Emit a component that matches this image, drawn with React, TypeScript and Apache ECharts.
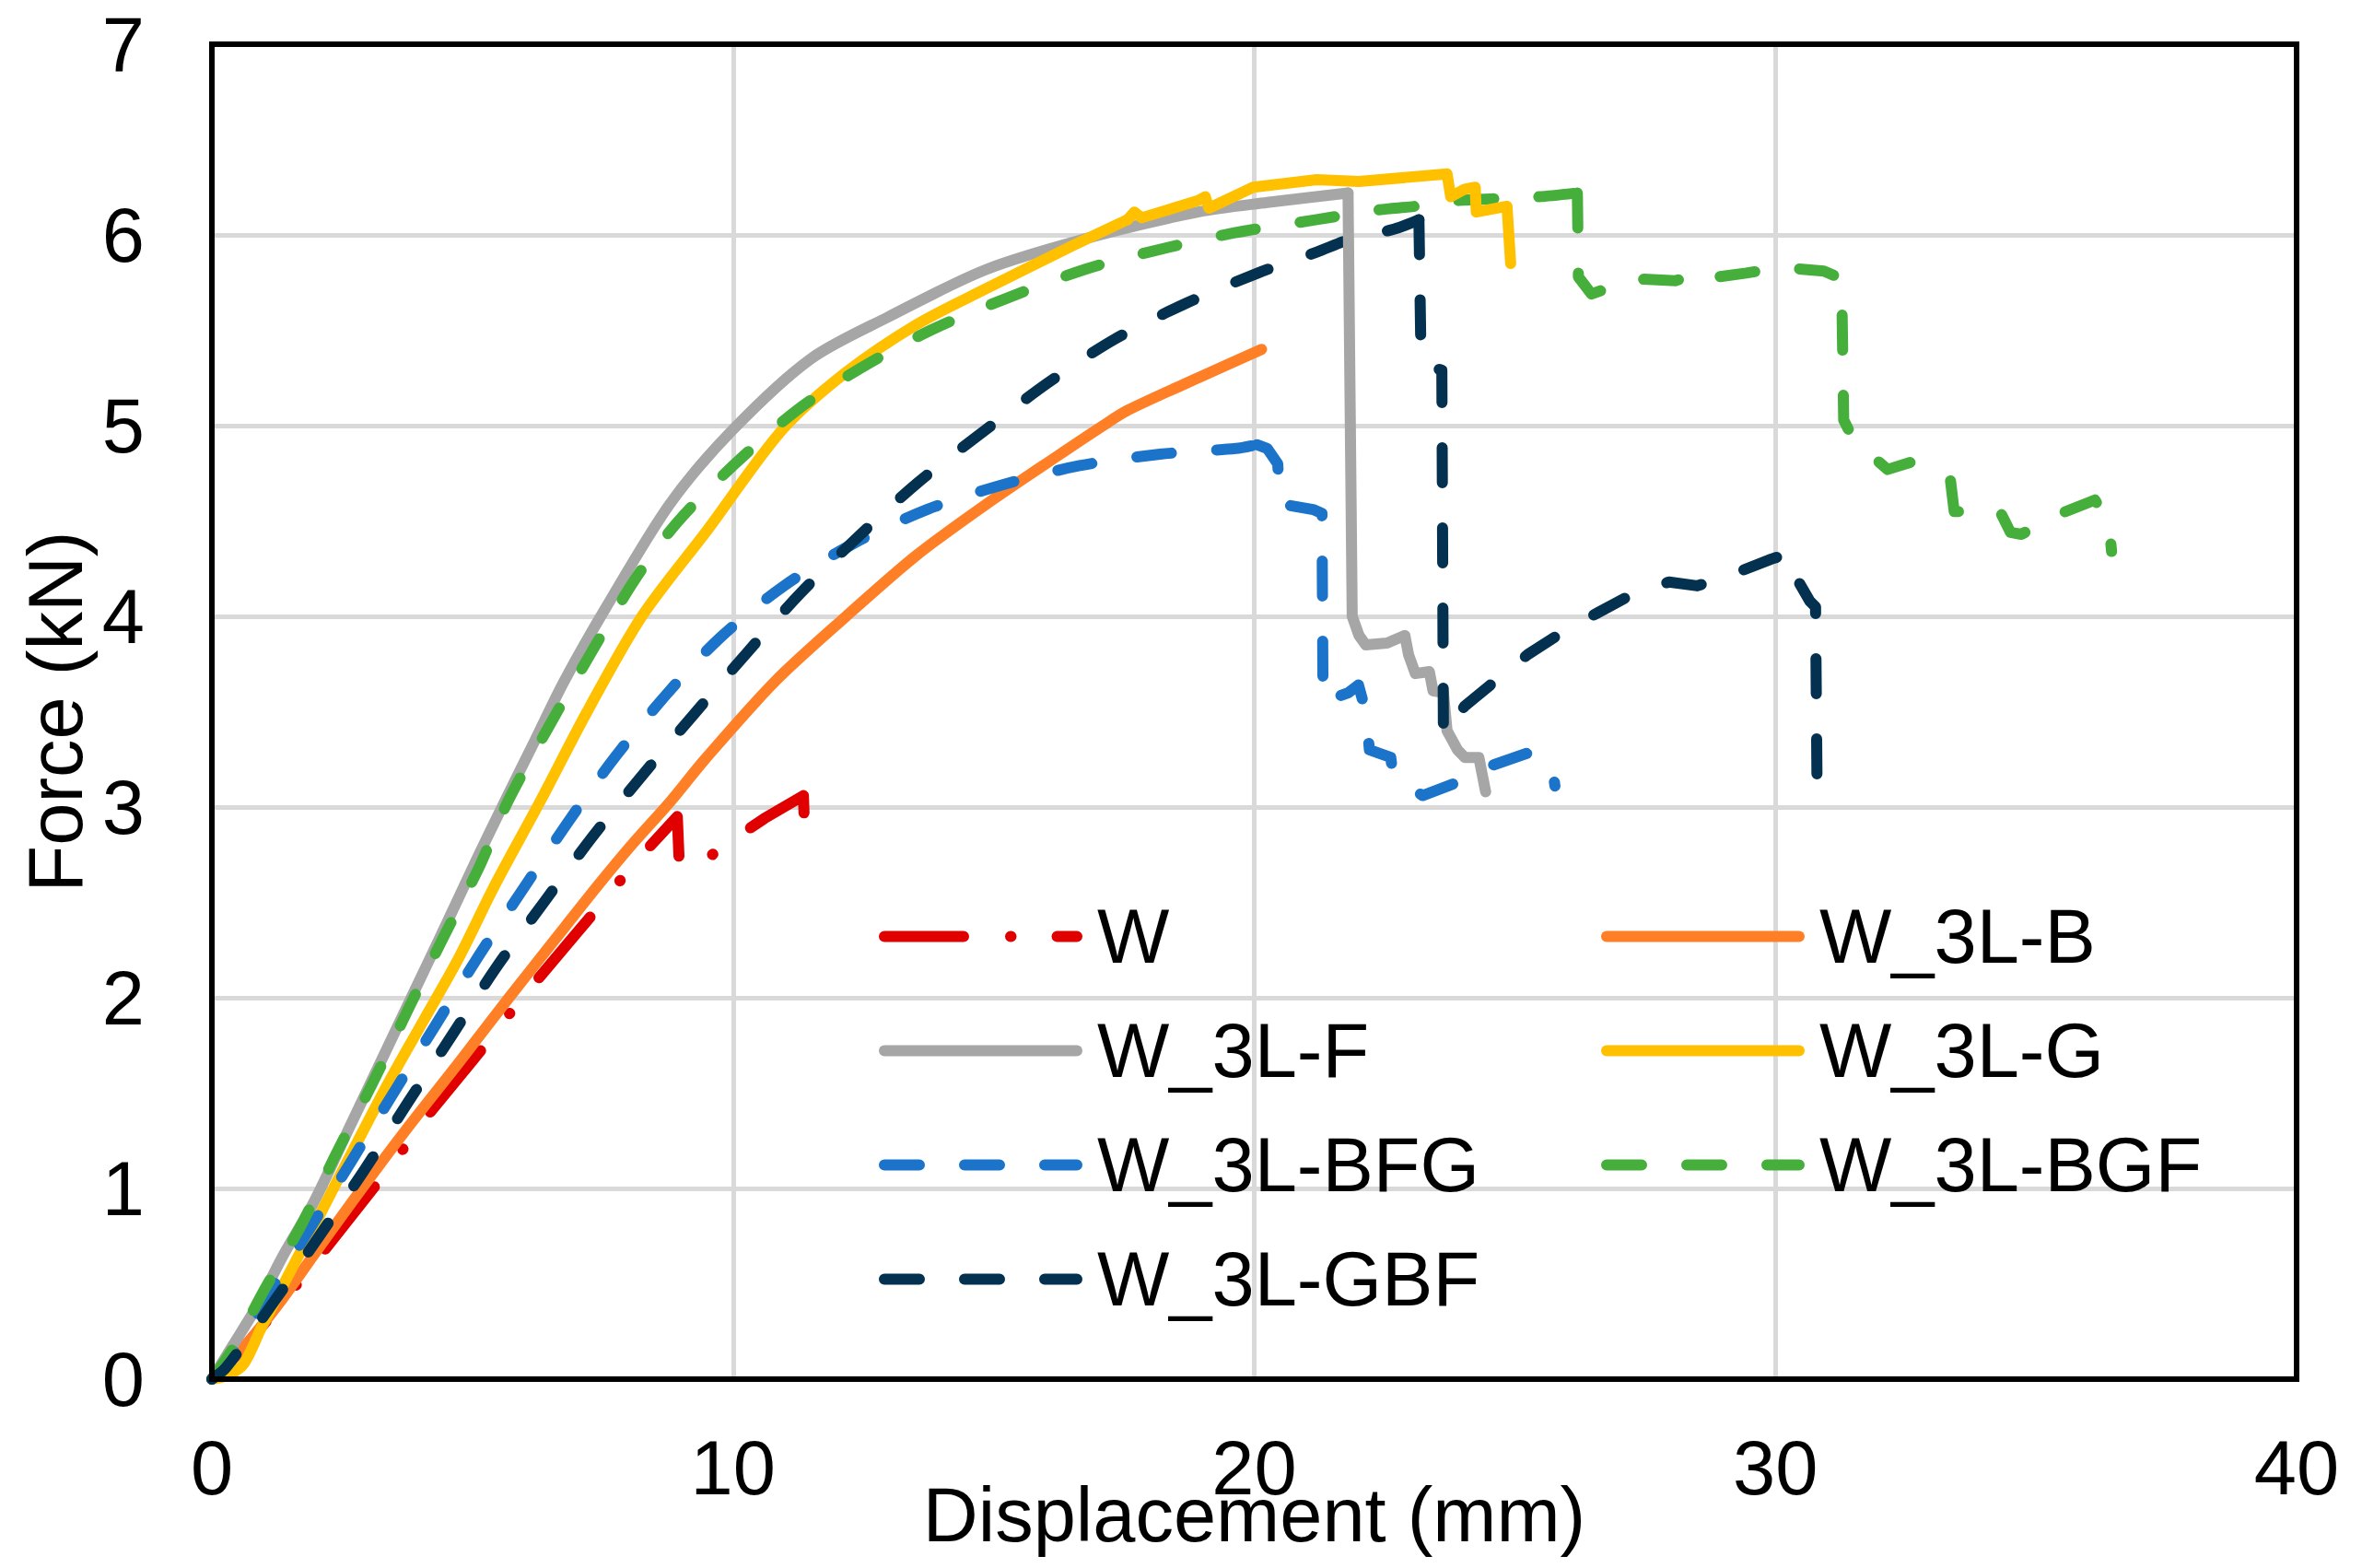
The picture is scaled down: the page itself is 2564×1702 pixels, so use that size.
import React, { useEffect, useRef } from "react";
import * as echarts from "echarts";

const FONT = "'Liberation Sans', Arial, Helvetica, sans-serif";

// x ticks / y ticks
const xTicks = { min: 0, max: 40, interval: 10 };
const yTicks = { min: 0, max: 7, interval: 1 };

const seriesNames = ["W", "W_3L-B", "W_3L-F", "W_3L-G", "W_3L-BFG", "W_3L-BGF", "W_3L-GBF"];
const seriesColors = ["#E00000", "#FF7F27", "#A6A6A6", "#FFC000", "#1B74C9", "#46AF3C", "#03314F"];
const seriesStyles = ["dashDot", "solid", "solid", "solid", "dash", "dash", "dash"];

// Loading branch (curve up to the peak) and failure branch (after the peak) per specimen
const loadW: number[][] = [
  [0, 0], [0.6, 0.16], [1.4, 0.42], [2.17, 0.68], [3.18, 1.03], [3.65, 1.2], [4.19, 1.4], [5.21, 1.74],
  [5.72, 1.92], [6.26, 2.1], [7.31, 2.44], [7.85, 2.62], [8.39, 2.79], [8.93, 2.95], [8.97, 2.69],
  [9.3, 2.69], [9.95, 2.82], [10.6, 2.94], [11.35, 3.06], [11.38, 2.82],
];
const failW: number[][] = [];

const loadB: number[][] = [
  [0, 0], [0.68, 0.19], [1.35, 0.42], [2.03, 0.68], [2.88, 1.0], [3.79, 1.33], [4.74, 1.66], [5.7, 2.0],
  [6.77, 2.37], [7.44, 2.6], [8.05, 2.8], [8.8, 3.03], [9.46, 3.25], [10.81, 3.66], [12.17, 4.0],
  [13.52, 4.32], [14.87, 4.59], [16.22, 4.84], [17.1, 5.0], [17.57, 5.08], [18.92, 5.25], [20.14, 5.4],
];
const failB: number[][] = [];

const loadF: number[][] = [
  [0, 0], [0.41, 0.18], [0.88, 0.39], [1.35, 0.64], [1.96, 0.93], [2.57, 1.28], [3.18, 1.63], [3.79, 1.98],
  [4.47, 2.37], [5.07, 2.72], [5.62, 3.03], [6.2, 3.35], [6.76, 3.66], [7.57, 4.05], [8.79, 4.59],
  [10.0, 4.98], [11.49, 5.35], [12.98, 5.57], [14.87, 5.82], [16.9, 5.99], [18.92, 6.12], [20.25, 6.17],
  [21.8, 6.22],
];
const failF: number[][] = [
  [21.8, 6.22], [21.88, 4.0], [22.01, 3.9], [22.14, 3.85], [22.55, 3.86], [22.89, 3.9], [22.96, 3.8],
  [23.09, 3.7], [23.36, 3.71], [23.43, 3.61], [23.63, 3.6], [23.7, 3.4], [23.9, 3.3], [24.04, 3.26],
  [24.31, 3.26], [24.44, 3.08],
];

const loadG: number[][] = [
  [0, 0], [0.3, 0.02], [0.61, 0.08], [0.95, 0.27], [1.42, 0.52], [2.03, 0.84], [2.71, 1.2], [3.38, 1.55],
  [4.06, 1.88], [4.74, 2.21], [5.41, 2.58], [6.3, 3.03], [7.2, 3.5], [8.25, 4.0], [9.5, 4.45],
  [10.95, 4.98], [12.17, 5.28], [13.52, 5.53], [14.87, 5.72], [16.49, 5.94], [17.57, 6.08],
];
const failG: number[][] = [
  [17.57, 6.08], [17.7, 6.12], [17.84, 6.09], [18.92, 6.18], [19.06, 6.2], [19.13, 6.14], [19.98, 6.25],
  [21.2, 6.29], [22.01, 6.28], [23.7, 6.32], [23.77, 6.2], [24.04, 6.24], [24.24, 6.25], [24.26, 6.12],
  [24.85, 6.15], [24.92, 5.85],
];

const loadBFG: number[][] = [
  [0, 0], [0.5, 0.17], [1.1, 0.45], [1.86, 0.78], [2.67, 1.14], [3.46, 1.49], [4.3, 1.86], [5.12, 2.22],
  [5.97, 2.57], [6.83, 2.92], [7.73, 3.26], [8.72, 3.59], [9.76, 3.89], [10.98, 4.16], [12.3, 4.38],
  [13.72, 4.56], [15.17, 4.69], [16.65, 4.79], [18.19, 4.85], [19.65, 4.88], [20.05, 4.9],
];
const failBFG: number[][] = [
  [20.05, 4.9], [20.25, 4.88], [20.45, 4.8], [20.5, 4.59], [21.13, 4.56], [21.3, 4.54], [21.32, 3.55],
  [21.81, 3.6], [22.0, 3.64], [22.14, 3.5], [22.21, 3.3], [22.62, 3.26], [22.66, 3.17], [23.23, 3.06],
  [23.9, 3.13], [24.58, 3.22], [25.32, 3.29], [25.73, 3.19], [25.77, 3.11],
];

const loadBGF: number[][] = [
  [0, 0], [0.4, 0.16], [1.01, 0.47], [1.7, 0.8], [2.4, 1.19], [3.08, 1.55], [3.75, 1.93], [4.43, 2.31],
  [5.12, 2.68], [5.68, 3.03], [6.42, 3.4], [7.3, 3.82], [8.11, 4.19], [8.92, 4.49], [10.0, 4.79],
  [11.22, 5.08], [12.44, 5.3], [13.79, 5.5], [15.27, 5.67], [16.76, 5.82], [17.98, 5.91], [19.6, 6.01],
  [21.2, 6.08], [22.35, 6.13], [23.09, 6.15], [23.9, 6.18], [24.64, 6.19], [25.46, 6.2], [26.2, 6.22],
];
const failBGF: number[][] = [
  [26.2, 6.22], [26.22, 5.78], [26.47, 5.69], [27.28, 5.77], [28.09, 5.76], [28.5, 5.8], [28.63, 5.77],
  [29.44, 5.8], [30.12, 5.83], [30.93, 5.81], [31.27, 5.77], [31.31, 5.03], [31.4, 4.98], [31.61, 4.9],
  [32.15, 4.77], [32.62, 4.81], [32.82, 4.79], [33.36, 4.71], [33.43, 4.55], [34.31, 4.55], [34.51, 4.44],
  [34.72, 4.43], [35.39, 4.53], [36.13, 4.61], [36.4, 4.49], [36.45, 4.34],
];

const loadGBF: number[][] = [
  [0, 0], [0.27, 0.06], [1.2, 0.41], [2.06, 0.75], [2.91, 1.09], [3.76, 1.45], [4.6, 1.8], [5.46, 2.16],
  [6.37, 2.5], [7.29, 2.84], [8.27, 3.17], [9.26, 3.49], [10.27, 3.81], [11.29, 4.12], [12.41, 4.42],
  [13.54, 4.7], [14.76, 4.96], [16.02, 5.22], [17.3, 5.45], [18.68, 5.64], [20.07, 5.8], [21.2, 5.91],
  [21.87, 5.98], [22.68, 6.03], [23.16, 6.08],
];
const failGBF: number[][] = [
  [23.16, 6.08], [23.2, 5.35], [23.5, 5.3], [23.6, 5.29], [23.63, 3.38], [24.04, 3.53], [24.71, 3.68],
  [25.25, 3.8], [25.93, 3.92], [26.6, 4.02], [27.28, 4.12], [27.96, 4.18], [28.5, 4.16], [29.17, 4.22],
  [29.92, 4.3], [30.25, 4.33], [30.32, 4.24], [30.66, 4.08], [30.77, 4.05], [30.8, 3.07],
];

const loadData = [loadW, loadB, loadF, loadG, loadBFG, loadBGF, loadGBF];
const failData = [failW, failB, failF, failG, failBFG, failBGF, failGBF];
// the W record is drawn as one straight-segment line (its loading branch is nearly linear)
const smoothLoad = [false, true, true, true, true, true, true];

const legendCol1 = ["W", "W_3L-F", "W_3L-BFG", "W_3L-GBF"];
const legendCol2 = ["W_3L-B", "W_3L-G", "W_3L-BGF"];

function dashFor(style: string): any {
  if (style === "dash") return [38, 49];
  if (style === "dashDot") return [86, 51, 0.5, 50];
  return "solid";
}

function lineSeries(name: string, i: number, data: number[][], smooth: boolean) {
  return {
    name,
    type: "line",
    data,
    showSymbol: false,
    symbol: "none",
    silent: true,
    smooth: smooth ? 0.3 : false,
    z: 2,
    color: seriesColors[i],
    itemStyle: { color: seriesColors[i] },
    lineStyle: {
      color: seriesColors[i],
      width: 12,
      type: dashFor(seriesStyles[i]),
      cap: "round",
      join: "round",
    },
    emphasis: { disabled: true },
  };
}

function buildOption() {
  const labelStyle = { fontFamily: FONT, fontSize: 83, lineHeight: 83, color: "#000" };
  const legendCommon = {
    orient: "vertical",
    top: 975,
    padding: 0,
    itemWidth: 209,
    itemHeight: 14,
    itemGap: 41,
    selectedMode: false,
    textStyle: { ...labelStyle, padding: [0, 0, 0, 17] },
    lineStyle: { width: 12 },
    itemStyle: { opacity: 0, color: "rgba(0,0,0,0)", borderWidth: 0 },
  };
  const series: any[] = [];
  seriesNames.forEach((name, i) => {
    series.push(lineSeries(name, i, loadData[i], smoothLoad[i]));
  });
  seriesNames.forEach((name, i) => {
    if (failData[i].length) series.push(lineSeries(name, i, failData[i], false));
  });
  return {
    animation: false,
    backgroundColor: "#fff",
    textStyle: { fontFamily: FONT },
    grid: {
      left: 230,
      top: 48,
      width: 2263,
      height: 1449,
      show: true,
      borderColor: "#000",
      borderWidth: 6,
      backgroundColor: "transparent",
      containLabel: false,
      outerBoundsMode: "none",
      z: 3,
    },
    legend: [
      { ...legendCommon, left: 954, data: legendCol1 },
      { ...legendCommon, left: 1738, data: legendCol2 },
    ],
    xAxis: {
      type: "value",
      min: xTicks.min,
      max: xTicks.max,
      interval: xTicks.interval,
      axisLine: { show: false },
      axisTick: { show: false },
      splitLine: { show: true, showMinLine: false, showMaxLine: false, lineStyle: { color: "#D9D9D9", width: 5 } },
      axisLabel: { ...labelStyle, margin: 55 },
      name: "Displacement (mm)",
      nameLocation: "middle",
      nameGap: 106,
      nameMoveOverlap: false,
      nameTextStyle: labelStyle,
    },
    yAxis: {
      type: "value",
      min: yTicks.min,
      max: yTicks.max,
      interval: yTicks.interval,
      axisLine: { show: false },
      axisTick: { show: false },
      splitLine: { show: true, showMinLine: false, showMaxLine: false, lineStyle: { color: "#D9D9D9", width: 5 } },
      axisLabel: { ...labelStyle, margin: 73 },
      name: "Force (kN)",
      nameLocation: "middle",
      nameRotate: 90,
      nameGap: 128,
      nameMoveOverlap: false,
      nameTextStyle: labelStyle,
    },
    series,
  };
}

export default function App() {
  const ref = useRef<HTMLDivElement>(null);
  useEffect(() => {
    if (!ref.current) return;
    const chart = echarts.init(ref.current, null, { renderer: "svg" });
    chart.setOption(buildOption() as any);
    return () => chart.dispose();
  }, []);
  return (
    <div
      ref={ref}
      style={{ position: "fixed", left: 0, top: 0, width: 2564, height: 1702, background: "#fff" }}
    />
  );
}
